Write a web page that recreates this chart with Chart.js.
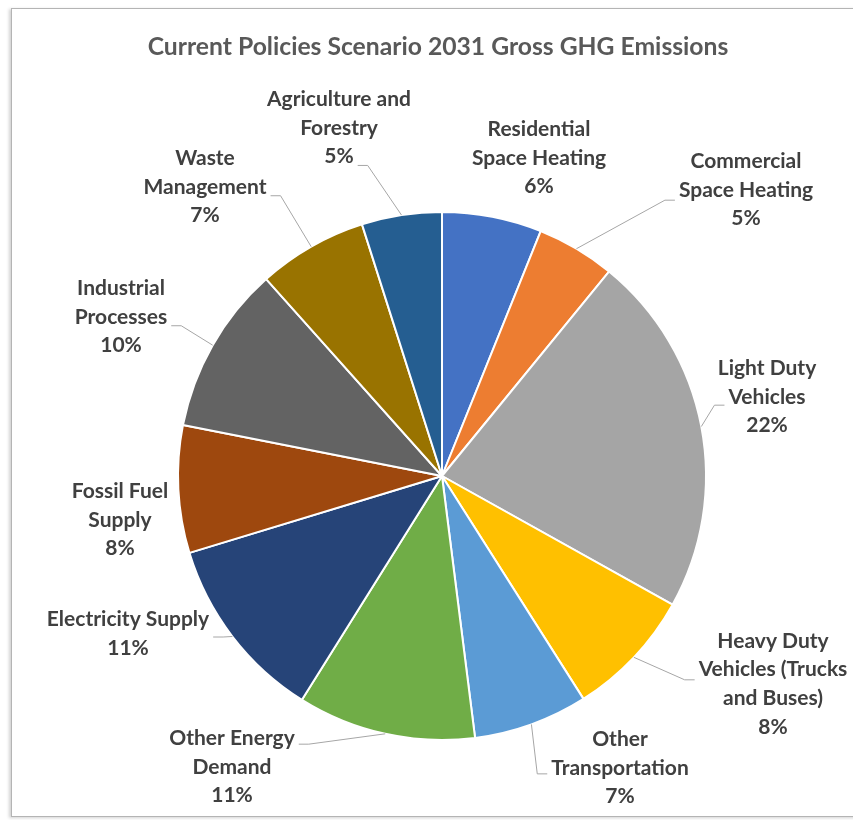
<!DOCTYPE html>
<html>
<head>
<meta charset="utf-8">
<script src="https://cdn.jsdelivr.net/npm/chart.js@4"></script>
<style>
  html, body { margin: 0; padding: 0; background: #fff; }
  #wrap { position: relative; width: 853px; height: 820px; overflow: hidden; }
  #frame {
    position: absolute; left: 11px; top: 8px; width: 900px; height: 807px;
    border: 1px solid #b4b4b4; box-shadow: -2px 1px 3px rgba(0,0,0,0.18);
  }
  #chart { position: absolute; left: 0; top: 0; }
</style>
</head>
<body>
<div id="wrap">
  <div id="frame"></div>
  <canvas id="chart" width="853" height="820"></canvas>
</div>
<script>
const chartTitle = "Current Policies Scenario 2031 Gross GHG Emissions";

const categories = [
    ["Residential", "Space Heating"],
    ["Commercial", "Space Heating"],
    ["Light Duty", "Vehicles"],
    ["Heavy Duty", "Vehicles (Trucks", "and Buses)"],
    ["Other", "Transportation"],
    ["Other Energy", "Demand"],
    ["Electricity Supply"],
    ["Fossil Fuel", "Supply"],
    ["Industrial", "Processes"],
    ["Waste", "Management"],
    ["Agriculture and", "Forestry"]
];

// share of gross emissions
const shares = [6.1, 4.8, 22.2, 7.9, 7.0, 10.9, 11.4, 7.8, 10.3, 6.7, 4.9];

const sliceColors = [
    "#4472C4", "#ED7D31", "#A5A5A5", "#FFC000", "#5B9BD5", "#70AD47",
    "#264478", "#9E480E", "#636363", "#997300", "#255E91"
];

// where each label sits, relative to the pie centre, and where its leader line attaches
const labelPlacement = [
    { off: [97, -318], leader: null },
    { off: [304, -286], leader: [-1, 1.25] },
    { off: [325, -79], leader: [-1, 1.18] },
    { off: [331, 208], leader: [-1, 1.25] },
    { off: [178, 292], leader: [-1, 1.1] },
    { off: [-210, 291], leader: [1, 0.1] },
    { off: [-314, 158], leader: [1, 0.5] },
    { off: [-322, 44], leader: null },
    { off: [-321, -159], leader: [1, 1.2] },
    { off: [-237, -289], leader: [1, 1.2] },
    { off: [-103, -348], leader: [1, 2.2] }
];

const LABEL_FONT = "bold 21px Lato";
const TITLE_FONT = "bold 24.7px Lato";
const LINE_H = 28.7;

const outsideLabels = {
    id: "outsideLabels",
    afterDatasetsDraw(chart) {
        const ctx = chart.ctx;
        const meta = chart.getDatasetMeta(0);
        const total = shares.reduce((a, b) => a + b, 0);
        ctx.save();
        ctx.textAlign = "center";
        ctx.textBaseline = "middle";

        // title, drawn here so it is not squeezed to the pie's width
        ctx.font = TITLE_FONT;
        ctx.fillStyle = "#595959";
        ctx.fillText(chartTitle, 438, 47);

        ctx.font = LABEL_FONT;
        meta.data.forEach((arc, i) => {
            const p = arc.getProps(["x", "y", "startAngle", "endAngle", "outerRadius"], true);
            const mid = (p.startAngle + p.endAngle) / 2;
            const place = labelPlacement[i];
            const lines = categories[i].concat([Math.round(shares[i] / total * 100) + "%"]);
            const cx = p.x + place.off[0];
            const top = p.y + place.off[1] - (lines.length - 1) * LINE_H / 2;

            if (place.leader) {
                const side = place.leader[0];
                const f = place.leader[1];
                const a = Math.floor(f), b = Math.min(Math.ceil(f), lines.length - 1);
                const w = Math.max(ctx.measureText(lines[a]).width, ctx.measureText(lines[b]).width);
                const sx = cx + side * (w / 2 + 4);
                const sy = top + f * LINE_H + 3;
                const ex = p.x + Math.cos(mid) * p.outerRadius;
                const ey = p.y + Math.sin(mid) * p.outerRadius;
                ctx.strokeStyle = "#a6a6a6";
                ctx.lineWidth = 1;
                ctx.beginPath();
                ctx.moveTo(sx, sy);
                const hx = sx + side * Math.min(10, Math.abs(ex - sx));
                ctx.lineTo(hx, sy);
                ctx.lineTo(ex, ey);
                ctx.stroke();
            }

            ctx.fillStyle = "#404040";
            lines.forEach((t, k) => ctx.fillText(t, cx, top + k * LINE_H));
        });
        ctx.restore();
    }
};

new Chart(document.getElementById("chart"), {
    type: "pie",
    data: {
        labels: categories.map(c => c.join(" ")),
        datasets: [{
            data: shares,
            backgroundColor: sliceColors,
            borderColor: "#ffffff",
            borderWidth: 2
        }]
    },
    options: {
        responsive: false,
        animation: false,
        layout: { padding: { left: 177, right: 146, top: 211, bottom: 79 } },
        plugins: {
            legend: { display: false },
            tooltip: { enabled: false },
            title: { display: false }
        }
    },
    plugins: [outsideLabels]
});
</script>
</body>
</html>
